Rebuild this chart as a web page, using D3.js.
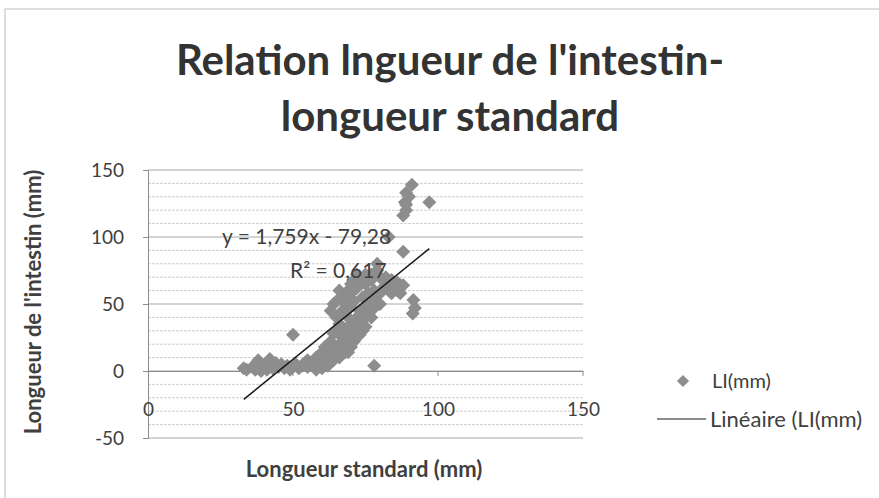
<!DOCTYPE html>
<html>
<head>
<meta charset="utf-8">
<script src="https://cdn.jsdelivr.net/npm/d3@7"></script>
<style>
  body { margin: 0; background: #fff; }
  text { font-family: Lato, "Open Sans", sans-serif; fill: #404040; }
</style>
</head>
<body>
<svg class="chart"></svg>
<script>
// longueur standard (mm) / longueur de l'intestin (mm)
let lsValues = [33,34,36,37,38,38,39,40,41,42,42,43,44,45,46,47,48,49,50,50,51,52,53,54,55,55,56,57,58,58,59,60,60,61,61,62,62,
                63,63,64,64,65,65,66,66,66,67,67,68,68,68,69,69,70,70,70,70,71,71,72,72,72,73,73,74,74,75,75,76,76,77,77,
                78,78,78,79,79,80,80,81,82,83,83,84,85,86,87,88,88,88,88.6,89,89,91,91.5,92,91.3,97,
                64,65,66,67,69,70,71,73,74,75,77,82,84,86,87,80,78,76,74,72,70,68,66,64,62,60,58,65,67,69,71,73,75,77,90,89];
let liValues = [2,1,3,1,2,8,0,3,1,4,9,2,6,3,5,2,4,1,3,27,5,2,4,6,3,8,5,7,4,10,6,9,14,5,18,8,10,
                22,45,15,28,30,40,20,35,60,25,45,30,50,55,22,40,25,35,48,58,30,52,40,62,72,45,35,38,55,48,65,50,58,53,68,
                4,60,55,75,80,58,70,62,64,60,100,58,62,60,64,89,64,116,126,120,133,139,53,47,43,126,
                50,52,42,55,60,65,68,70,66,72,72,70,68,66,58,50,47,43,30,28,18,14,10,8,4,2,1,12,18,14,22,27,33,40,130,124];
let xTicks = [0,50,100,150];
let yTicks = [-50,0,50,100,150];
let slope = 1.759, intercept = -79.28;

let data = lsValues.map((v,i)=>({x:v, y:liValues[i]}));

let svg = d3.select('.chart')
            .attr('width',879)
            .attr('height',498);

svg.append('rect')
   .attr('x',5).attr('y',9)
   .attr('width',900).attr('height',520)
   .attr('fill','#fff')
   .attr('stroke','#bdbdbd');

let xScale = d3.scaleLinear().domain([0,150]).range([148,583]);
let yScale = d3.scaleLinear().domain([-50,150]).range([438,170]);

// gridlines
let minor = d3.range(-50,151,10);
svg.append('g')
   .selectAll('line')
   .data(minor)
   .enter()
   .append('line')
   .attr('x1',xScale(0))
   .attr('x2',xScale(150))
   .attr('y1',(d)=>yScale(d))
   .attr('y2',(d)=>yScale(d))
   .attr('stroke',(d)=> d % 50 === 0 ? '#a8a8a8' : '#cfcfcf')
   .attr('stroke-width',1)
   .attr('stroke-dasharray',(d)=> d % 50 === 0 ? null : '3,1');

// y axis
let yAxis = d3.axisLeft(yScale).tickValues(yTicks).tickSize(5).tickPadding(19).tickFormat((d)=>String(d));
let gy = svg.append('g')
   .attr('transform','translate(148,0)')
   .call(yAxis);
gy.select('.domain').attr('stroke','#8c8c8c');
gy.selectAll('.tick line').attr('stroke','#8c8c8c');
gy.selectAll('text').style('font-size','19px').style('font-family','Lato, sans-serif').attr('fill','#404040');

// x axis
let xAxis = d3.axisBottom(xScale).tickValues(xTicks).tickSize(0).tickPadding(32).tickFormat((d)=>String(d));
let gx = svg.append('g')
   .attr('transform','translate(0,' + yScale(0) + ')')
   .call(xAxis);
gx.select('.domain').attr('stroke','#8c8c8c');
gx.selectAll('text').style('font-size','19px').style('font-family','Lato, sans-serif').attr('fill','#404040');
svg.append('g').selectAll('line')
   .data(xTicks.slice(1))
   .enter()
   .append('line')
   .attr('x1',(d)=>xScale(d)).attr('x2',(d)=>xScale(d))
   .attr('y1',yScale(0)).attr('y2',yScale(0)+5)
   .attr('stroke','#8c8c8c');

// points
let diamond = d3.symbol().type(d3.symbolDiamond2).size(125);
svg.append('g')
   .selectAll('path')
   .data(data)
   .enter()
   .append('path')
   .attr('d',diamond)
   .attr('transform',(d)=>'translate(' + xScale(d.x) + ',' + yScale(d.y) + ')')
   .attr('fill','#8d8d8d');

// trend line
let xMin = d3.min(lsValues), xMax = d3.max(lsValues);
svg.append('line')
   .attr('x1',xScale(xMin)).attr('y1',yScale(slope*xMin+intercept))
   .attr('x2',xScale(xMax)).attr('y2',yScale(slope*xMax+intercept))
   .attr('stroke','#1a1a1a')
   .attr('stroke-width',1.5);

// equation
svg.append('text')
   .attr('x',222).attr('y',244)
   .style('font-size','21px')
   .text('y = 1,759x - 79,28');
svg.append('text')
   .attr('x',290).attr('y',278)
   .style('font-size','21px')
   .text('R² = 0,617');

// title
let title = svg.append('g').attr('id','title');
title.append('text')
   .attr('x',450).attr('y',75)
   .attr('text-anchor','middle')
   .style('font-size','42px').style('font-weight','bold').style('fill','#333')
   .text("Relation lngueur de l'intestin-");
title.append('text')
   .attr('x',450).attr('y',131)
   .attr('text-anchor','middle')
   .style('font-size','42px').style('font-weight','bold').style('fill','#333')
   .text('longueur standard');

// axis titles
svg.append('text')
   .attr('x',364).attr('y',477)
   .attr('text-anchor','middle')
   .style('font-size','22px').style('font-weight','bold')
   .text('Longueur standard (mm)');
svg.append('text')
   .attr('transform','rotate(-90)')
   .attr('x',-302).attr('y',41)
   .attr('text-anchor','middle')
   .style('font-size','22px').style('font-weight','bold')
   .text("Longueur de l'intestin (mm)");

// legend
let legend = svg.append('g').attr('id','legend');
legend.append('path')
   .attr('d',d3.symbol().type(d3.symbolDiamond2).size(95))
   .attr('transform','translate(683,381)')
   .attr('fill','#8d8d8d');
legend.append('text')
   .attr('x',712).attr('y',388)
   .style('font-size','20px')
   .text('LI(mm)');
legend.append('line')
   .attr('x1',657).attr('x2',706)
   .attr('y1',419).attr('y2',419)
   .attr('stroke','#1a1a1a').attr('stroke-width',1.2);
legend.append('text')
   .attr('x',710).attr('y',427)
   .style('font-size','22px')
   .text('Linéaire (LI(mm)');
</script>
</body>
</html>
